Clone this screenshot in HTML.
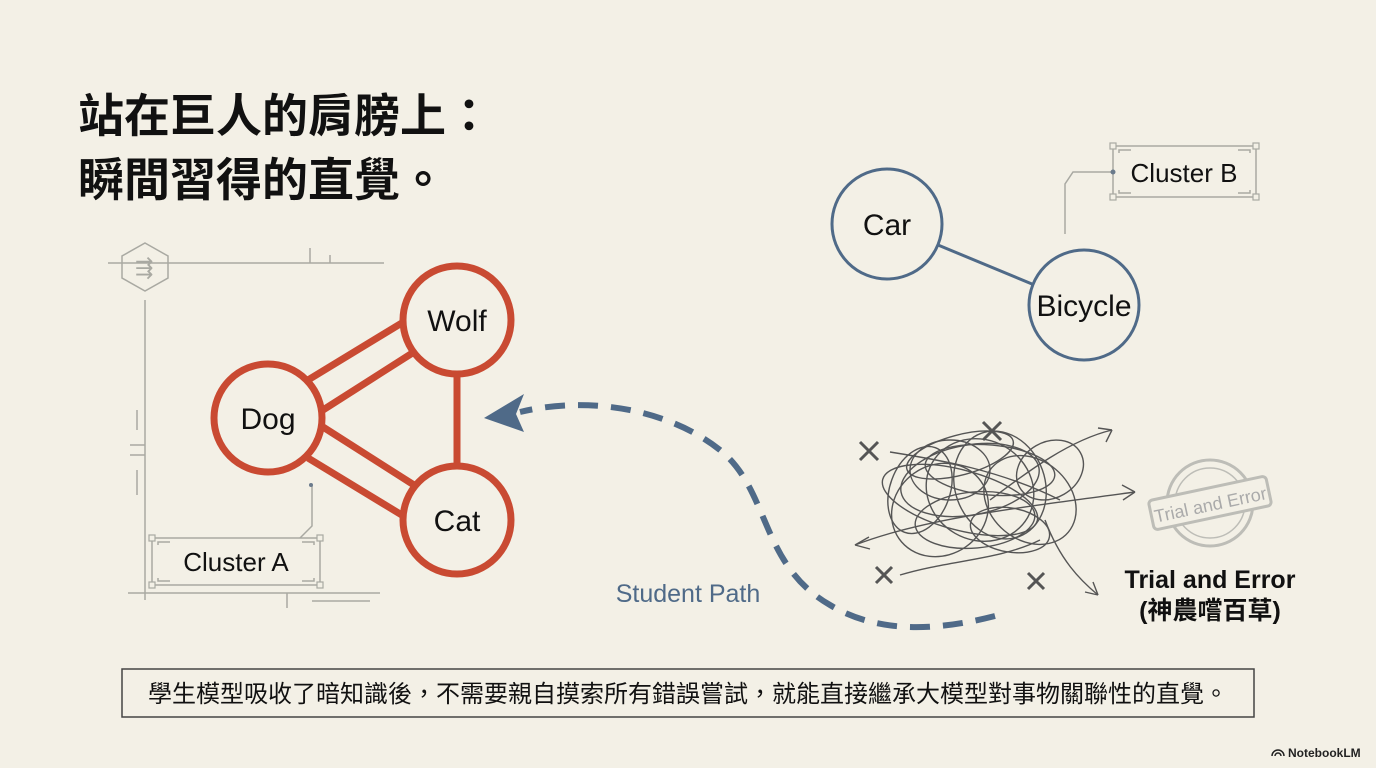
<!DOCTYPE html>
<html><head><meta charset="utf-8"><style>
html,body{margin:0;padding:0;background:#f3f0e6;}
svg{display:block}
text{font-family:"Liberation Sans","Noto Sans CJK TC",sans-serif;}
</style></head><body>
<svg width="1376" height="768" viewBox="0 0 1376 768" xmlns="http://www.w3.org/2000/svg">
<rect width="1376" height="768" fill="#f3f0e6"/>
<text x="78" y="132" font-size="46" font-weight="bold" fill="#111" font-family="'Noto Sans CJK TC',sans-serif">站在巨人的肩膀上：</text>
<text x="78" y="196" font-size="46" font-weight="bold" fill="#111" font-family="'Noto Sans CJK TC',sans-serif">瞬間習得的直覺。</text>

<g stroke="#a9a9a2" stroke-width="1.5" fill="none">
<line x1="108" y1="263" x2="384" y2="263"/>
<line x1="310" y1="248" x2="310" y2="263"/><line x1="330" y1="255" x2="330" y2="263"/>
<polygon points="145,243 168,256 168,278 145,291 122,278 122,256"/>
<line x1="145" y1="300" x2="145" y2="600"/>
<line x1="137" y1="410" x2="137" y2="430"/><line x1="130" y1="445" x2="145" y2="445"/><line x1="130" y1="455" x2="145" y2="455"/>
<line x1="137" y1="470" x2="137" y2="495"/>
<line x1="128" y1="593" x2="380" y2="593"/>
<line x1="287" y1="593" x2="287" y2="608"/>
<line x1="312" y1="601" x2="370" y2="601"/>
<rect x="152" y="538" width="168" height="47"/>
<path d="M158 545v-3h12M158 578v3h12M314 545v-3h-12M314 578v3h-12"/>
<path d="M300 538l12-12v-40"/>
<rect x="1113" y="146" width="143" height="51"/>
<path d="M1119 153v-3h12M1119 190v3h12M1250 153v-3h-12M1250 190v3h-12"/>
<path d="M1113 172h-40l-8 12v50"/>
</g>
<text x="135" y="275" font-size="22" fill="#a9a9a2">⇶</text>
<g fill="#f3f0e6" stroke="#a9a9a2" stroke-width="1.2">
<rect x="149" y="535" width="6" height="6"/><rect x="317" y="535" width="6" height="6"/><rect x="149" y="582" width="6" height="6"/><rect x="317" y="582" width="6" height="6"/>
<rect x="1110" y="143" width="6" height="6"/><rect x="1253" y="143" width="6" height="6"/><rect x="1110" y="194" width="6" height="6"/><rect x="1253" y="194" width="6" height="6"/>
</g>
<circle cx="311" cy="485" r="2" fill="#6b7b8c"/><circle cx="1113" cy="172" r="2.5" fill="#6b7b8c"/>
<text x="236" y="571" font-size="26" fill="#111" text-anchor="middle">Cluster A</text>
<text x="1184" y="182" font-size="26" fill="#111" text-anchor="middle">Cluster B</text>

<g stroke="#c94a32" stroke-width="7" fill="none">
<line x1="308" y1="380" x2="410" y2="318"/>
<line x1="323" y1="410" x2="414" y2="352"/>
<line x1="323" y1="427" x2="414" y2="485"/>
<line x1="308" y1="458" x2="410" y2="520"/>
<line x1="457" y1="375" x2="457" y2="465"/>
<circle cx="457" cy="320" r="54" fill="#f3f0e6"/>
<circle cx="268" cy="418" r="54" fill="#f3f0e6"/>
<circle cx="457" cy="520" r="54" fill="#f3f0e6"/>
</g>
<text x="457" y="331" font-size="30" text-anchor="middle" fill="#111">Wolf</text>
<text x="268" y="429" font-size="30" text-anchor="middle" fill="#111">Dog</text>
<text x="457" y="531" font-size="30" text-anchor="middle" fill="#111">Cat</text>

<g stroke="#4f6a88" stroke-width="3" fill="#f3f0e6">
<line x1="938" y1="245" x2="1032" y2="284"/>
<circle cx="887" cy="224" r="55"/>
<circle cx="1084" cy="305" r="55"/>
</g>
<text x="887" y="235" font-size="30" text-anchor="middle" fill="#111">Car</text>
<text x="1084" y="316" font-size="30" text-anchor="middle" fill="#111">Bicycle</text>

<path d="M995 616 C940 630,880 635,830 605 C760 565,770 490,720 450 C670 410,590 395,520 412" stroke="#4f6a88" stroke-width="6" fill="none" stroke-dasharray="20 13"/>
<polygon points="484,418 524,394 516,414 524,432" fill="#4f6a88"/>
<text x="688" y="602" font-size="25" fill="#4f6a88" text-anchor="middle">Student Path</text>

<g stroke="#555" stroke-width="1.4" fill="none">
<ellipse cx="970" cy="480" rx="70" ry="35" transform="rotate(-10 970 480)"/>
<ellipse cx="980" cy="490" rx="55" ry="50" transform="rotate(30 980 490)"/>
<ellipse cx="960" cy="500" rx="80" ry="30" transform="rotate(15 960 500)"/>
<ellipse cx="1000" cy="485" rx="45" ry="55" transform="rotate(-20 1000 485)"/>
<ellipse cx="950" cy="470" rx="40" ry="30"/>
<ellipse cx="1030" cy="500" rx="50" ry="40" transform="rotate(40 1030 500)"/>
<ellipse cx="940" cy="510" rx="50" ry="45" transform="rotate(-35 940 510)"/>
<ellipse cx="990" cy="470" rx="65" ry="25" transform="rotate(5 990 470)"/>
<ellipse cx="975" cy="520" rx="60" ry="28" transform="rotate(-5 975 520)"/>
<ellipse cx="920" cy="490" rx="30" ry="45" transform="rotate(20 920 490)"/>
<ellipse cx="1050" cy="470" rx="35" ry="28" transform="rotate(-30 1050 470)"/>
<ellipse cx="960" cy="455" rx="55" ry="20" transform="rotate(-15 960 455)"/>
<ellipse cx="1010" cy="530" rx="40" ry="22" transform="rotate(10 1010 530)"/>
<path d="M855 545 C920 520,1000 510,1135 492"/><path d="M855 545l14-8M855 545l15 4M1135 492l-13-7M1135 492l-12 8"/>
<path d="M990 500 C1030 470,1070 440,1112 430"/><path d="M1112 430l-14-2M1112 430l-6 12"/>
<path d="M1045 520 C1060 560,1080 580,1098 595"/><path d="M1098 595l-5-13M1098 595l-13-3"/>
<path d="M900 575 C950 560,1000 560,1040 540"/>
<path d="M890 452 C940 460,1000 470,1060 500"/>
</g>
<g stroke="#555" stroke-width="3">
<path d="M860 442l18 18M878 442l-18 18M983 422l18 18M1001 422l-18 18M876 567l16 16M892 567l-16 16M1028 573l16 16M1044 573l-16 16"/>
</g>
<g stroke="#b8b8b2" stroke-width="3" fill="none" opacity="0.9">
<circle cx="1210" cy="503" r="43"/><circle cx="1210" cy="503" r="35" stroke-width="1.5"/>
<rect x="1150" y="488" width="120" height="30" rx="4" transform="rotate(-12 1210 503)" fill="#f3f0e6"/>
</g>
<text x="1210" y="511" font-size="18" fill="#aaa" text-anchor="middle" transform="rotate(-12 1210 503)">Trial and Error</text>
<text x="1210" y="588" font-size="25" font-weight="bold" fill="#111" text-anchor="middle">Trial and Error</text>
<text x="1210" y="619" font-size="25" font-weight="bold" fill="#111" text-anchor="middle">(神農嚐百草)</text>

<rect x="122" y="669" width="1132" height="48" fill="none" stroke="#444" stroke-width="1.5"/>
<text x="688" y="702" font-size="24" fill="#111" text-anchor="middle">學生模型吸收了暗知識後，不需要親自摸索所有錯誤嘗試，就能直接繼承大模型對事物關聯性的直覺。</text>
<text x="1288" y="757" font-size="12" font-weight="bold" fill="#222">NotebookLM</text>
<path d="M1272 756a6 6 0 0 1 12 0M1275 756a3 3 0 0 1 6 0" stroke="#222" stroke-width="1.5" fill="none"/>
</svg>
</body></html>
